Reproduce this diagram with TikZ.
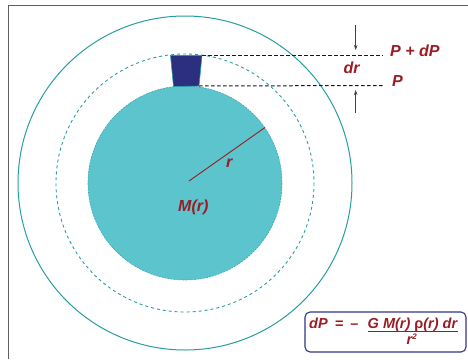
\documentclass[tikz,border=0pt]{standalone}
\usepackage{fontspec}
\setmainfont{Liberation Sans}
\usetikzlibrary{arrows.meta}
\definecolor{teal1}{RGB}{38,158,160}
\definecolor{tealfill}{RGB}{92,196,204}
\definecolor{tealedge}{RGB}{60,170,180}
\definecolor{navy1}{RGB}{44,47,127}
\definecolor{red1}{RGB}{155,28,34}
\definecolor{frame1}{RGB}{95,95,95}
\definecolor{boxblue}{RGB}{52,52,138}
\tikzset{
  lbl/.style={font=\fontsize{16}{18}\selectfont\bfseries\itshape, text=red1, inner sep=0pt},
  eq/.style={font=\fontsize{14.5}{16}\selectfont\bfseries\itshape, text=red1, inner sep=0pt},
  guide/.style={dash pattern=on 3.5pt off 2.5pt, line width=1pt, black!90},
  arr/.style={-{Stealth[length=5pt,width=3.5pt]}, line width=0.9pt, black!75},
}
\begin{document}
\begin{tikzpicture}[x=1pt,y=-1pt]
\useasboundingbox (0,0) rectangle (468,359);
% frame
\draw[frame1, line width=1.9pt] (8.5,359) -- (8.5,5.5) -- (468,5.5);
% circles
\coordinate (c) at (185,183);
\draw[teal1, line width=1pt] (c) circle[radius=167];
\draw[teal1, line width=0.9pt, dash pattern=on 3pt off 3pt] (c) circle[radius=129];
\fill[tealfill] (c) circle[radius=97];
\draw[tealedge, line width=0.6pt, dash pattern=on 2pt off 1pt] (c) circle[radius=97];
% shell element
\coordinate (tl) at (170.5,55.5);
\coordinate (tr) at (202,55.5);
\coordinate (br) at (199,86);
\coordinate (bl) at (173.5,86.5);
\filldraw[fill=navy1, draw=teal1, line width=0.6pt] (tl) -- (tr) -- (br) -- (bl) -- cycle;
% guides
\coordinate (ue) at (383,55.5);
\coordinate (le) at (383,85.5);
\draw[guide] (tr) -- (ue);
\draw[guide] (br) -- (le);
% arrows
\coordinate (a1s) at (355.7,25);
\coordinate (a1e) at (355.7,50);
\coordinate (a2s) at (355.7,113);
\coordinate (a2e) at (355.7,90);
\draw[arr] (a1s) -- (a1e);
\draw[arr] (a2s) -- (a2e);
% radius
\coordinate (rs) at (189,181);
\coordinate (re) at (265,127.5);
\draw[red1, line width=0.9pt] (rs) -- (re);
% labels
\node[lbl, anchor=base west] (pdp) at (390,56) {P + dP};
\node[lbl, anchor=base west] (p) at (392,86) {P};
\node[lbl, anchor=base] (dr) at (351.5,73) {dr};
\node[lbl, anchor=base west] (r) at (226,167) {r};
\node[lbl, anchor=base west] (mr) at (178,211) {M(r)};
% equation box
\draw[boxblue, line width=1.1pt, rounded corners=5pt] (305,312) rectangle (466,352);
\node[eq, anchor=base west] (lhs) at (309,328) {dP\hspace{3pt} =\hspace{3pt} –};
\node[eq, anchor=base west] (num) at (367.5,328) {G M(r) {\upshape ρ}(r) dr};
\coordinate (fl) at (368,331.5);
\coordinate (fr) at (458,331.5);
\draw[red1, line width=1pt] (fl) -- (fr);
\node[eq, anchor=base] (den) at (412,344.5) {r\textsuperscript{\fontsize{8}{8}\selectfont 2}};
\end{tikzpicture}
\end{document}
